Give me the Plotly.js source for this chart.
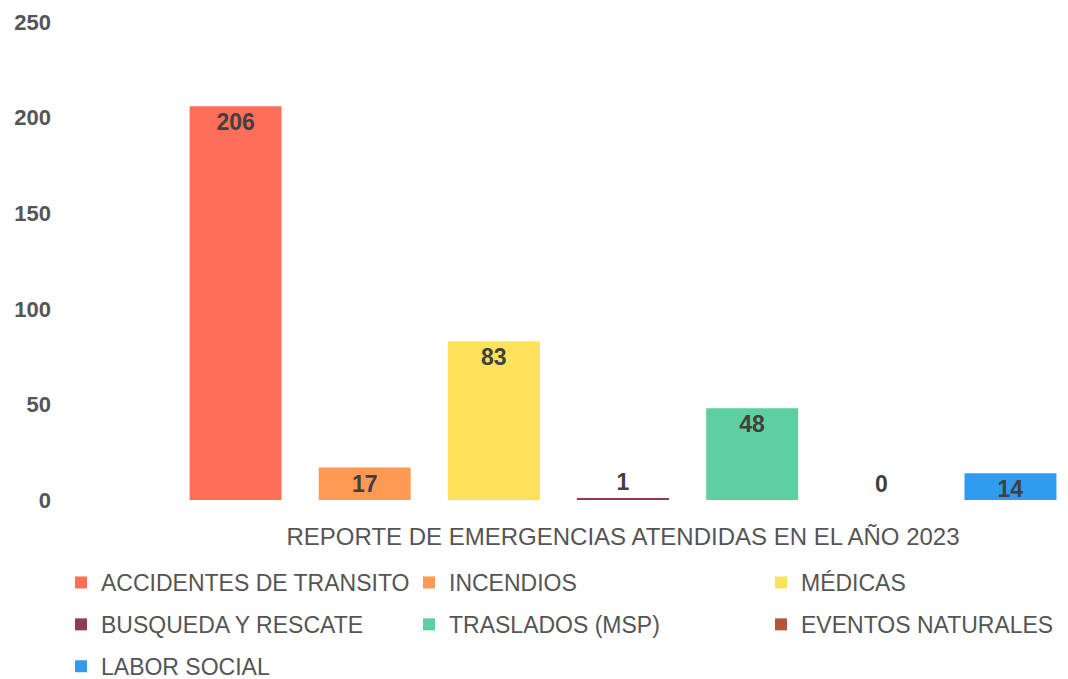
<!DOCTYPE html>
<html>
<head>
<meta charset="utf-8">
<script src="https://cdn.plot.ly/plotly-3.0.1.min.js"></script>
<style>html,body{margin:0;padding:0;background:#fff;}#chart{width:1068px;height:679px;}</style>
</head>
<body>
<div id="chart"></div>
<script>
const category = ["REPORTE DE EMERGENCIAS ATENDIDAS EN EL AÑO 2023"];
const seriesNames = ["ACCIDENTES DE TRANSITO", "INCENDIOS", "MÉDICAS", "BUSQUEDA Y RESCATE", "TRASLADOS (MSP)", "EVENTOS NATURALES", "LABOR SOCIAL"];
const seriesValues = [206, 17, 83, 1, 48, 0, 14];
const seriesColors = ["#FF6E58", "#FF9A55", "#FFE15C", "#8E3C4E", "#5ECF9F", "#B4553A", "#2F9CF0"];
const textPositions = ["inside", "inside", "inside", "outside", "inside", "outside", "inside"];
const legendIds = ["legend", "legend2", "legend3", "legend", "legend2", "legend3", "legend"];

const font = "Arial, 'Liberation Sans', sans-serif";
const traces = seriesNames.map((name, i) => ({
  type: "bar",
  name: name,
  x: category,
  y: [seriesValues[i]],
  marker: {color: seriesColors[i]},
  text: [String(seriesValues[i])],
  textposition: textPositions[i],
  insidetextanchor: "end",
  textangle: 0,
  constraintext: "none",
  textfont: {family: font, size: 23, color: "#404040", weight: "bold"},
  cliponaxis: false,
  legend: legendIds[i],
  legendgroup: "g" + i,
  hoverinfo: "name+y"
}));

const legendBase = {
  orientation: "v",
  xref: "container", yref: "container",
  xanchor: "left", yanchor: "top",
  bgcolor: "rgba(0,0,0,0)",
  tracegroupgap: 9,
  itemwidth: 30,
  font: {family: font, size: 23, color: "#555555"}
};

const layout = {
  width: 1068, height: 679,
  margin: {l: 58, r: 0, t: 22, b: 179, autoexpand: false},
  paper_bgcolor: "#ffffff",
  plot_bgcolor: "#ffffff",
  barmode: "group",
  bargap: 0.1,
  bargroupgap: 0.288,
  showlegend: true,
  xaxis: {
    range: [-0.5625, 0.443],
    showgrid: false, zeroline: false, showline: false, ticks: "",
    ticklabelstandoff: 20,
    tickfont: {family: font, size: 24, color: "#555555"}
  },
  yaxis: {
    range: [0, 250],
    tickvals: [0, 50, 100, 150, 200, 250],
    showgrid: false, zeroline: false, showline: false, ticks: "",
    ticklabelstandoff: 6,
    tickfont: {family: font, size: 22, color: "#555555", weight: "bold"}
  },
  legend: Object.assign({}, legendBase, {x: 61 / 1068, y: 1 - 561 / 679}),
  legend2: Object.assign({}, legendBase, {x: 409 / 1068, y: 1 - 561 / 679}),
  legend3: Object.assign({}, legendBase, {x: 761 / 1068, y: 1 - 561 / 679})
};

Plotly.newPlot("chart", traces, layout, {displayModeBar: false, staticPlot: true});
</script>
</body>
</html>
